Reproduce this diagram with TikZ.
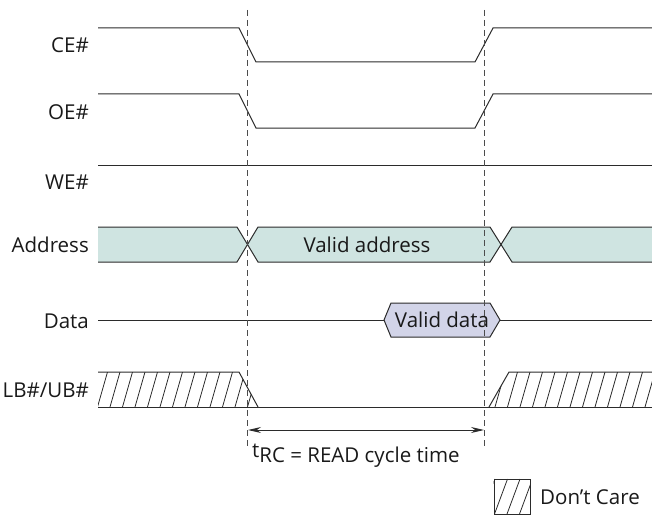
\documentclass[tikz,border=0pt]{standalone}
\usepackage{fontspec}
\setmainfont{Open Sans}
\usetikzlibrary{arrows.meta}
\definecolor{sig}{HTML}{2B2B2B}
\definecolor{addrfill}{HTML}{CFE4E1}
\definecolor{datafill}{HTML}{D2D4E8}
\tikzset{
  wave/.style={draw=sig, line width=1pt},
  lbl/.style={anchor=east, font=\fontsize{20.5}{22}\selectfont, text=black!90, inner sep=0pt},
  busfill/.style={fill=addrfill},
  guide/.style={draw=black!70, line width=1pt, dash pattern=on 6pt off 4pt},
  hatch/.style={draw=sig, line width=0.8pt},
}
\begin{document}
\begin{tikzpicture}[x=1pt,y=-1pt]
\useasboundingbox (0,0) rectangle (652,516);
% labels
\node[lbl] (lce) at (89,45) {CE\#};
\node[lbl] (loe) at (89,112) {OE\#};
\node[lbl] (lwe) at (89,182) {WE\#};
\node[lbl] (lad) at (89,244.5) {Address};
\node[lbl] (lda) at (89,321) {Data};
\node[lbl] (llb) at (89,390) {LB\#/UB\#};
% CE#
\draw[wave] (98,28) -- (239,28) -- (256,62) -- (475,62) -- (493,28) -- (652,28);
% OE#
\draw[wave] (98,94) -- (239,94) -- (256,128) -- (475,128) -- (493,94) -- (652,94);
% WE#
\draw[wave] (98,165) -- (652,165);
% Address
\fill[busfill] (98,227) -- (237,227) -- (247.5,244.5) -- (237,262) -- (98,262) -- cycle;
\fill[busfill] (247.5,244.5) -- (258,227) -- (490,227) -- (501,244.5) -- (490,262) -- (258,262) -- cycle;
\fill[busfill] (501,244.5) -- (512,227) -- (652,227) -- (652,262) -- (512,262) -- cycle;
\draw[wave] (98,227) -- (237,227) -- (258,262) -- (490,262) -- (512,227) -- (652,227);
\draw[wave] (98,262) -- (237,262) -- (258,227) -- (490,227) -- (512,262) -- (652,262);
\node[lbl, anchor=center] (va) at (367,244.5) {Valid address};
% Data
\draw[wave, fill=datafill] (384,320) -- (391,303) -- (490,303) -- (500,320) -- (490,337) -- (391,337) -- cycle;
\node[lbl, anchor=center] (vd) at (442,320) {Valid data};
\draw[wave] (98,320) -- (384,320);
\draw[wave] (500,320) -- (652,320);
% LB#/UB#
\begin{scope}
\clip (98,372) -- (239,372) -- (258,407) -- (98,407) -- cycle;
\foreach \i in {60,72.5,...,260} \draw[hatch] (\i,407) -- ++(10,-35);
\end{scope}
\begin{scope}
\clip (489,407) -- (509,372) -- (652,372) -- (652,407) -- cycle;
\foreach \i in {470,482.5,...,660} \draw[hatch] (\i,407) -- ++(10,-35);
\end{scope}
\draw[wave] (98,372) -- (239,372) -- (258,407);
\draw[wave] (489,407) -- (509,372) -- (652,372);
\draw[wave] (98,407) -- (652,407);
% guides
\coordinate (g1t) at (247.5,10);
\coordinate (g1b) at (247.5,447);
\coordinate (g2t) at (484,10);
\coordinate (g2b) at (484,447);
\draw[guide] (g1t) -- (g1b);
\draw[guide] (g2t) -- (g2b);
% cycle time
\coordinate (a1) at (248,430);
\coordinate (a2) at (484,430);
\draw[draw=sig, line width=1pt, {Stealth[length=13pt,width=6pt]}-{Stealth[length=13pt,width=6pt]}] (a1) -- (a2);
\node[lbl, anchor=base west] (trc) at (252,462) {\raisebox{5pt}{t}RC = READ cycle time};
% legend
\node[draw=sig, line width=1pt, minimum width=36pt, minimum height=35pt, inner sep=0pt] (lg) at (512,496.5) {};
\begin{scope}
\clip (lg.south west) rectangle (lg.north east);
\foreach \i in {482,494.5,...,540} \draw[hatch] (\i,514) -- ++(13,-35);
\end{scope}
\node[lbl, anchor=west] (dc) at (540,497) {Don’t Care};
\end{tikzpicture}
\end{document}
